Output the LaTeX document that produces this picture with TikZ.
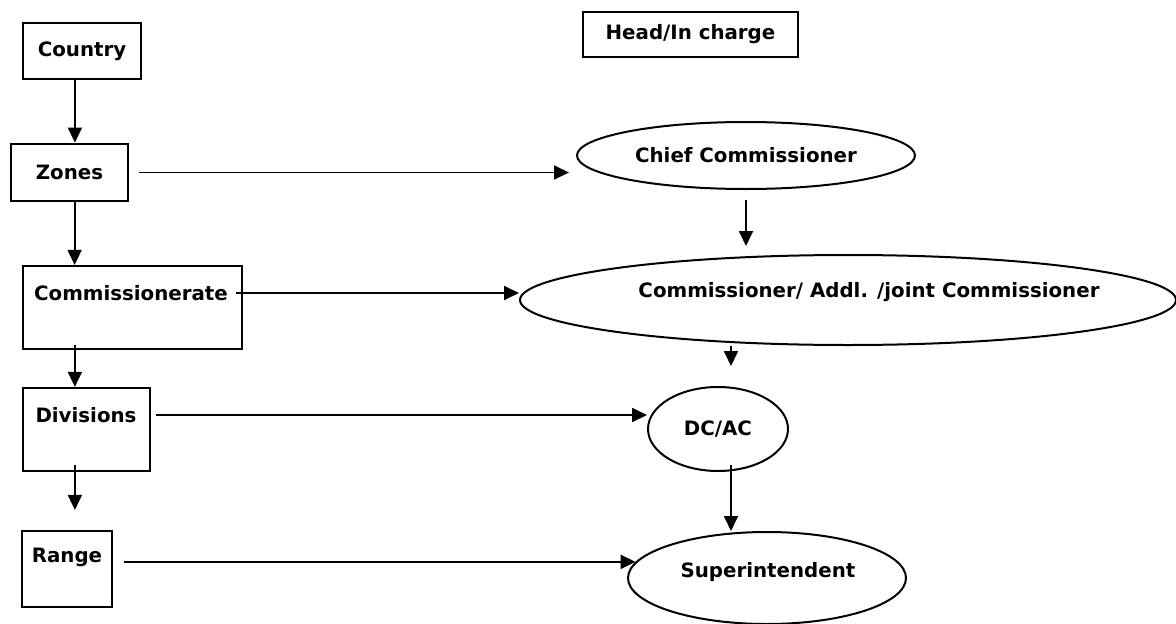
\documentclass[tikz,border=0pt]{standalone}
\usepackage{fontspec}
\setmainfont{DejaVu Sans}
\usetikzlibrary{arrows.meta,shapes.geometric}
\begin{document}
\begin{tikzpicture}[x=1pt,y=-1pt,
  every node/.style={font=\fontsize{19.8}{23}\selectfont\bfseries},
  box/.style={draw, line width=2.2pt, rectangle, inner sep=0pt},
  oval/.style={draw, line width=2pt, ellipse, inner sep=0pt},
  lbl/.style={inner sep=0pt},
  arr/.style={line width=1.8pt, -{Triangle[length=15pt,width=14pt]}}]
\useasboundingbox (0,0) rectangle (1176,624);
% left column boxes
\node[box, minimum width=118pt, minimum height=56pt] (country) at (82,51) {Country};
\node[box, line width=2.8pt, minimum width=117pt, minimum height=57pt] (zones) at (69.5,172.5) {Zones};
\node[box, minimum width=219pt, minimum height=83pt] (comm) at (132.5,307.5) {};
\node[lbl] (commT) at (131,293) {Commissionerate};
\node[box, minimum width=127pt, minimum height=83pt] (div) at (86.5,429.5) {};
\node[lbl] (divT) at (86,415) {Divisions};
\node[box, minimum width=90pt, minimum height=76pt] (range) at (67,569) {};
\node[lbl] (rangeT) at (67,557) {Range};
% right column
\node[box, minimum width=215pt, minimum height=45pt] (head) at (690.5,34.5) {Head/In charge};
\node[oval, minimum width=338pt, minimum height=67pt] (chief) at (746,155.5) {Chief Commissioner};
\node[oval, minimum width=656pt, minimum height=90pt] (commr) at (848,300) {};
\node[lbl] (commrT) at (869,292) {Commissioner/ Addl. /joint Commissioner};
\node[oval, minimum width=140pt, minimum height=84pt] (dcac) at (718,429) {DC/AC};
\node[oval, minimum width=278pt, minimum height=92pt] (sup) at (767,578) {};
\node[lbl] (supT) at (768,572) {Superintendent};
% vertical arrows
\draw[arr] ([xshift=53pt]country.south west) -- ([xshift=53pt]country.south west |- zones.north);
\draw[arr] ([xshift=65pt]zones.south west) -- ([xshift=65pt]zones.south west |- comm.north);
\draw[arr] ([xshift=53pt,yshift=5pt]comm.south west) -- ([xshift=53pt]comm.south west |- div.north);
\draw[arr, shorten >=20pt] ([xshift=53pt,yshift=7pt]div.south west) -- ([xshift=53pt]div.south west |- range.north);
\draw[arr, shorten <=10pt, shorten >=8pt] (chief.south) -- (chief.south |- commr.north);
\draw[arr, shorten >=20pt] ([xshift=13pt]dcac.north |- commr.south) -- ([xshift=13pt]dcac.north);
\draw[arr, shorten <=-7pt] ([xshift=13pt]dcac.south |- dcac.south) -- ([xshift=13pt]dcac.south |- sup.north);
% horizontal arrows
\draw[arr, shorten <=10pt, shorten >=7pt] (zones.east) -- (zones.east -| chief.west);
\draw[arr, shorten <=-7pt] (comm.east |- commT) -- (commr.west |- commT);
\draw[arr, shorten <=5pt] (div.east |- divT) -- (dcac.west |- divT);
\draw[arr, shorten <=11pt] (range.east |- sup.173) -- (sup.173);
\end{tikzpicture}
\end{document}
